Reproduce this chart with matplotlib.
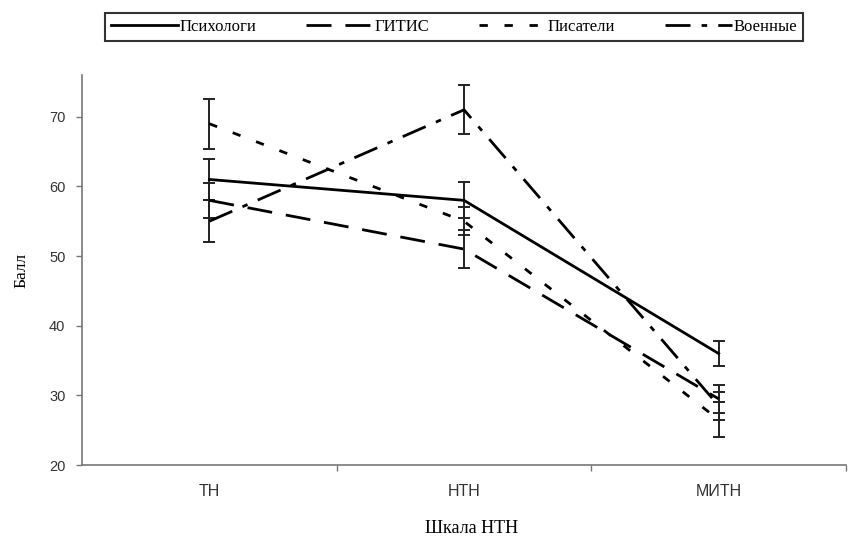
import matplotlib
matplotlib.use("Agg")
import matplotlib.pyplot as plt
import numpy as np

# Scale categories and group means with their error margins
categories = ["ТН", "НТН", "МИТН"]
groups = ["Психологи", "ГИТИС", "Писатели", "Военные"]
psych = [61, 58, 36]
gitis = [58, 51, 29.5]
writers = [69, 55, 26.5]
military = [55, 71, 28.5]
psych_err = [3.0, 2.6, 1.8]
gitis_err = [2.5, 2.7, 2.0]
writers_err = [3.6, 2.0, 2.5]
military_err = [3.0, 3.5, 2.0]

series = [psych, gitis, writers, military]
errors = [psych_err, gitis_err, writers_err, military_err]
styles = ["-", (0, (9, 5)), (0, (3, 6)), (0, (9, 4, 2, 4))]

serif = ["Liberation Serif", "DejaVu Serif"]
sans = ["Liberation Sans", "DejaVu Sans"]

fig = plt.figure(figsize=(8.49, 5.47), dpi=100)
ax = fig.add_axes([0.0966, 0.1499, 0.8999, 0.713])

x = np.arange(len(categories))
handles = []
for name, vals, err, ls in zip(groups, series, errors, styles):
    ax.errorbar(x, vals, yerr=err, fmt="none", ecolor="#222222",
                elinewidth=1.4, capsize=4, capthick=1.4, zorder=3)
    h, = ax.plot(x, vals, color="black", lw=2.0, linestyle=ls,
                 label=name, zorder=4)
    handles.append(h)

ax.set_xlim(-0.5, 2.5)
ax.set_ylim(20, 76)
ax.set_yticks([20, 30, 40, 50, 60, 70])
ax.set_yticklabels(["20", "30", "40", "50", "60", "70"], family=sans,
                   fontsize=10.5, color="#333333")
ax.set_xticks(x)
ax.set_xticklabels(categories, family=sans, fontsize=11.5, color="#333333")
ax.set_xticks([0.5, 1.5, 2.5], minor=True)
ax.tick_params(axis="x", which="major", length=0, pad=14)
ax.tick_params(axis="x", which="minor", length=4, color="#777777", width=1)
ax.tick_params(axis="y", length=4, color="#777777", width=1, pad=8)

for side in ["top", "right"]:
    ax.spines[side].set_visible(False)
for side in ["left", "bottom"]:
    ax.spines[side].set_color("#777777")
    ax.spines[side].set_linewidth(1.2)

ax.set_ylabel("Балл", family=serif, fontsize=12.5, labelpad=14)
ax.set_xlabel("Шкала НТН", family=serif, fontsize=13, labelpad=12)
ax.xaxis.set_label_coords(0.51, -0.14)

leg = fig.legend(handles=handles, labels=groups, loc="center",
                 bbox_to_anchor=(0.535, 0.951), ncol=4, frameon=True,
                 fancybox=False, edgecolor="black", handlelength=4.0,
                 handletextpad=0.1, columnspacing=3.0,
                 prop={"family": serif, "size": 12}, borderpad=0.35)
leg.get_frame().set_linewidth(1.5)

fig.savefig("out.png", dpi=100)
